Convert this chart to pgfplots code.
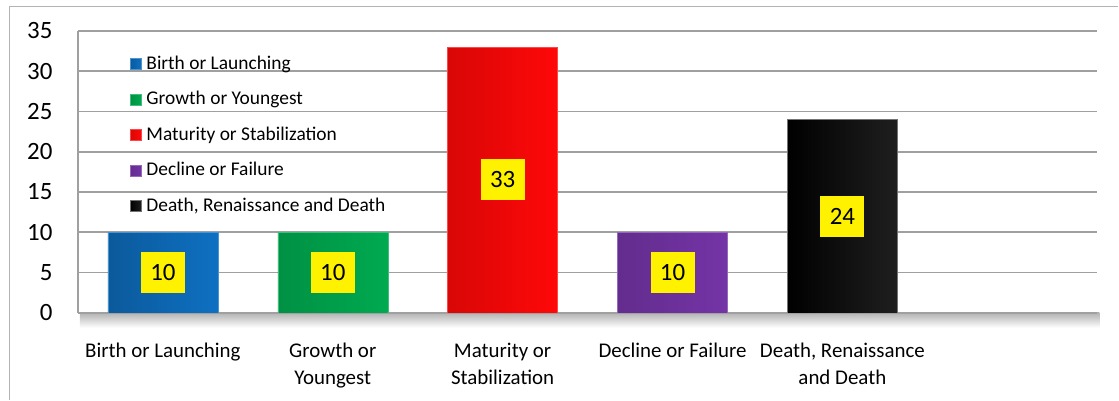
\documentclass[border=0pt]{standalone}
\usepackage{fontspec}
\setmainfont{Carlito}
\usepackage{pgfplots}
\pgfplotsset{compat=1.18}
\definecolor{cblue}{RGB}{14,112,194}
\definecolor{cgreen}{RGB}{0,170,80}
\definecolor{cred}{RGB}{255,8,8}
\definecolor{cpurple}{RGB}{116,52,166}
\definecolor{cblack}{RGB}{6,6,6}
\definecolor{gridgray}{RGB}{160,160,160}
\begin{document}
\begin{tikzpicture}[x=1bp,y=1bp]
\path (0,0) rectangle (1119,400);
\draw[color=gridgray!80, line width=1.5bp] (9.5,0) -- (9.5,393.5) -- (1119,393.5);
\fill[top color=black!30, bottom color=white] (80,87) rectangle (1100,72);
\begin{axis}[
  at={(78bp,87bp)}, anchor=south west,
  scale only axis, width=1020bp, height=282bp,
  ymin=0, ymax=35, ytick={0,5,...,35},
  xmin=-0.5, xmax=5.5, xtick={0,1,2,3,4},
  xticklabels={Birth or Launching, {Growth or\\Youngest}, {Maturity or\\Stabilization}, Decline or Failure, {Death, Renaissance\\and Death}},
  xticklabel style={align=center, font=\fontsize{21}{27}\selectfont, anchor=north, yshift=-27bp},
  yticklabel style={font=\fontsize{25}{25}\selectfont, anchor=east, xshift=-22bp},
  /pgf/number format/assume math mode=true,
  major tick length=0pt,
  ymajorgrids, grid style={color=gridgray, line width=1.8bp},
  axis x line*=bottom, axis y line*=left,
  axis line style={color=gridgray, line width=1.8bp},
  ybar, bar width=110bp,
  legend cell align=left,
  legend image code/.code={\fill[#1] (0bp,-5.5bp) rectangle (11bp,5.5bp);},
  legend style={at={(0.048,0.922)}, anchor=north west, draw=none, fill=none,
    font=\fontsize{19.5}{19.5}\selectfont, row sep=17.5bp,
    /tikz/every odd column/.append style={column sep=5bp},
    nodes={inner sep=0pt, text height=14bp, text depth=4bp}},
]
\addplot[bar shift=0pt, draw=cblue!75!white, left color=cblue!80!black, right color=cblue] coordinates {(0,10)};
\addlegendentry{Birth or Launching}
\addplot[bar shift=0pt, draw=cgreen!75!white, left color=cgreen!85!black, right color=cgreen] coordinates {(1,10)};
\addlegendentry{Growth or Youngest}
\addplot[bar shift=0pt, draw=cred!75!white, left color=cred!85!black, right color=cred] coordinates {(2,33)};
\addlegendentry{Maturity or Stabilization}
\addplot[bar shift=0pt, draw=cpurple!75!white, left color=cpurple!85!black, right color=cpurple] coordinates {(3,10)};
\addlegendentry{Decline or Failure}
\addplot[bar shift=0pt, draw=black!55, left color=black, right color=black!88!white] coordinates {(4,24)};
\addlegendentry{Death, Renaissance and Death}
\addplot[sharp plot, bar shift=0pt, draw=none, mark=none, forget plot, nodes near coords, point meta=explicit symbolic,
  nodes near coords style={fill=yellow, anchor=center, xshift=0pt, yshift=0pt, font=\fontsize{25}{25}\selectfont, minimum width=44bp, minimum height=41bp, inner sep=0pt, text=black}]
  coordinates {(0,5) [10] (1,5) [10] (2,16.5) [33] (3,5) [10] (4,12) [24]};
\end{axis}
\end{tikzpicture}
\end{document}
